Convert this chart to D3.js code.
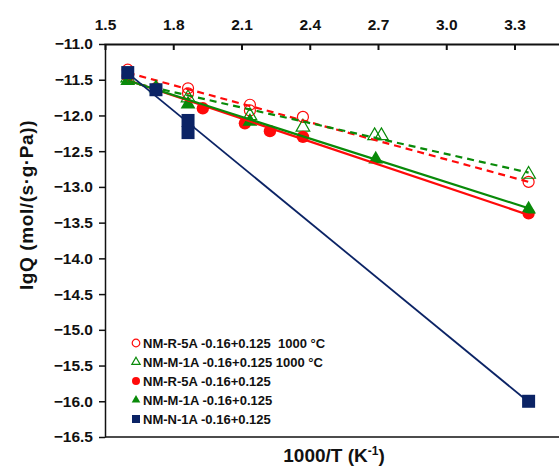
<!DOCTYPE html>
<html>
<head>
<meta charset="utf-8">
<script src="https://cdn.jsdelivr.net/npm/d3@7"></script>
<style>
  body { margin: 0; background: #fff; }
  text { font-family: "Liberation Sans", Arial, sans-serif; font-weight: bold; }
</style>
</head>
<body>
<script>
'use strict';

// series data: [1000/T, lgQ]
const openRed = [[1.60, -11.36], [1.865, -11.62], [1.865, -11.69], [2.137, -11.85], [2.137, -11.93], [2.37, -12.02], [3.362, -12.93]];
const openGreen = [[1.60, -11.46], [1.865, -11.74], [2.137, -11.99], [2.37, -12.15], [2.685, -12.27], [2.715, -12.27], [3.362, -12.81]];
const fillRed = [[1.60, -11.45], [1.724, -11.62], [1.93, -11.90], [2.115, -12.11], [2.225, -12.22], [2.37, -12.30], [3.362, -13.37]];
const fillGreen = [[1.60, -11.50], [1.724, -11.60], [1.865, -11.83], [2.137, -12.07], [2.69, -12.60], [3.362, -13.30]];
const blueSq = [[1.60, -11.40], [1.724, -11.64], [1.865, -12.07], [1.865, -12.24], [3.362, -16.00]];

const xTicks = [1.5, 1.8, 2.1, 2.4, 2.7, 3.0, 3.3];
const yTicks = [-11.0, -11.5, -12.0, -12.5, -13.0, -13.5, -14.0, -14.5, -15.0, -15.5, -16.0, -16.5];

const legendLabels = [
  'NM-R-5A -0.16+0.125  1000 °C',
  'NM-M-1A -0.16+0.125 1000 °C',
  'NM-R-5A -0.16+0.125',
  'NM-M-1A -0.16+0.125',
  'NM-N-1A -0.16+0.125'
];

const RED = '#ff0a0a', GREEN = '#098a09', BLUE = '#0b2365';

const svg = d3.select('body').append('svg')
  .attr('width', 559)
  .attr('height', 467);

const x = d3.scaleLinear().domain([1.5, 3.5]).range([105, 560]);
const y = d3.scaleLinear().domain([-11, -16.5]).range([44, 437]);

// top axis with inward ticks
const xAxis = d3.axisTop(x).tickValues(xTicks).tickSize(-6).tickFormat(d3.format('.1f')).tickPadding(14);
const gx = svg.append('g').attr('transform', 'translate(0,44)').call(xAxis);
gx.select('.domain').attr('stroke', '#111').attr('stroke-width', 2);
gx.selectAll('.tick line').attr('stroke', '#111').attr('stroke-width', 2);
gx.selectAll('.tick text').style('font-size', '15.5px').attr('fill', '#111');
gx.selectAll('.tick').filter(d => d === 1.5).select('line').remove();

// left axis with outward ticks
const yAxis = d3.axisLeft(y).tickValues(yTicks).tickSize(6).tickSizeOuter(0).tickFormat(d3.format('.1f')).tickPadding(6);
const gy = svg.append('g').attr('transform', 'translate(105,0)').call(yAxis);
gy.select('.domain').attr('stroke', '#111').attr('stroke-width', 1.5);
gy.selectAll('.tick line').attr('stroke', '#111').attr('stroke-width', 1.5);
gy.selectAll('.tick text').style('font-size', '15.5px').attr('fill', '#111');

// bottom frame line
svg.append('line')
  .attr('x1', x(1.5)).attr('x2', 559)
  .attr('y1', y(-16.5)).attr('y2', y(-16.5))
  .attr('stroke', '#111').attr('stroke-width', 1.5);

// least squares trend line between the outer points
function trend(pts) {
  const mx = d3.mean(pts, d => d[0]);
  const my = d3.mean(pts, d => d[1]);
  const sxy = d3.sum(pts, d => (d[0] - mx) * (d[1] - my));
  const sxx = d3.sum(pts, d => (d[0] - mx) * (d[0] - mx));
  const b = sxy / sxx;
  const ext = d3.extent(pts, d => d[0]);
  return ext.map(v => [v, my + b * (v - mx)]);
}

const line = d3.line().x(d => x(d[0])).y(d => y(d[1]));

function drawTrend(pts, color, width, dash) {
  svg.append('path')
    .attr('d', line(trend(pts)))
    .attr('fill', 'none')
    .attr('stroke', color)
    .attr('stroke-width', width)
    .attr('stroke-dasharray', dash);
}

const tri = d3.symbol().type(d3.symbolTriangle);

// open markers with dashed trends
svg.append('g').selectAll('circle').data(openRed).join('circle')
  .attr('cx', d => x(d[0])).attr('cy', d => y(d[1])).attr('r', 5.5)
  .attr('fill', 'none').attr('stroke', RED).attr('stroke-width', 1.2);
svg.append('g').selectAll('path').data(openGreen).join('path')
  .attr('transform', d => `translate(${x(d[0])},${y(d[1]) + 1})`)
  .attr('d', tri.size(80)())
  .attr('fill', 'none').attr('stroke', GREEN).attr('stroke-width', 1.2);

drawTrend(openRed, RED, 2.2, '7,5');
drawTrend(openGreen, GREEN, 2.2, '7,5');

// filled markers
svg.append('g').selectAll('circle').data(fillRed).join('circle')
  .attr('cx', d => x(d[0])).attr('cy', d => y(d[1])).attr('r', 6.2)
  .attr('fill', RED);
svg.append('g').selectAll('path').data(fillGreen).join('path')
  .attr('transform', d => `translate(${x(d[0])},${y(d[1]) + 1})`)
  .attr('d', tri.size(95)())
  .attr('fill', GREEN);

drawTrend(fillRed, RED, 2.2, null);
drawTrend(fillGreen, GREEN, 2.2, null);
drawTrend(blueSq, BLUE, 1.8, null);

svg.append('g').selectAll('rect').data(blueSq).join('rect')
  .attr('x', d => x(d[0]) - 6.5).attr('y', d => y(d[1]) - 6.5)
  .attr('width', 13).attr('height', 13)
  .attr('fill', BLUE);

// legend
const legend = svg.append('g').attr('transform', 'translate(136,343)');
const rowH = 19;
legend.append('circle').attr('cx', 0).attr('cy', 0).attr('r', 3.8)
  .attr('fill', 'none').attr('stroke', RED).attr('stroke-width', 1.2);
legend.append('path').attr('transform', `translate(0,${rowH})`)
  .attr('d', d3.symbol().type(d3.symbolTriangle).size(30)())
  .attr('fill', 'none').attr('stroke', GREEN).attr('stroke-width', 1.2);
legend.append('circle').attr('cx', 0).attr('cy', rowH * 2).attr('r', 4)
  .attr('fill', RED);
legend.append('path').attr('transform', `translate(0,${rowH * 3})`)
  .attr('d', d3.symbol().type(d3.symbolTriangle).size(32)())
  .attr('fill', GREEN);
legend.append('rect').attr('x', -4).attr('y', rowH * 4 - 4)
  .attr('width', 8).attr('height', 8).attr('fill', BLUE);

legend.selectAll('text.lab').data(legendLabels).join('text')
  .attr('class', 'lab')
  .attr('x', 7)
  .attr('y', (d, i) => i * rowH + 5)
  .attr('xml:space', 'preserve')
  .style('white-space', 'pre')
  .style('font-size', '13px')
  .attr('fill', '#111')
  .text(d => d);

// axis titles
svg.append('text')
  .attr('transform', 'translate(33,205)rotate(-90)')
  .attr('text-anchor', 'middle')
  .style('font-size', '19px')
  .style('letter-spacing', '0.6px')
  .attr('fill', '#111')
  .text('lgQ (mol/(s·g·Pa))');

const xt = svg.append('text')
  .attr('x', 334).attr('y', 462)
  .attr('text-anchor', 'middle')
  .style('font-size', '19px')
  .attr('fill', '#111');
xt.append('tspan').text('1000/T (K');
xt.append('tspan').attr('dy', -7).style('font-size', '12px').text('-1');
xt.append('tspan').attr('dy', 7).text(')');
</script>
</body>
</html>
